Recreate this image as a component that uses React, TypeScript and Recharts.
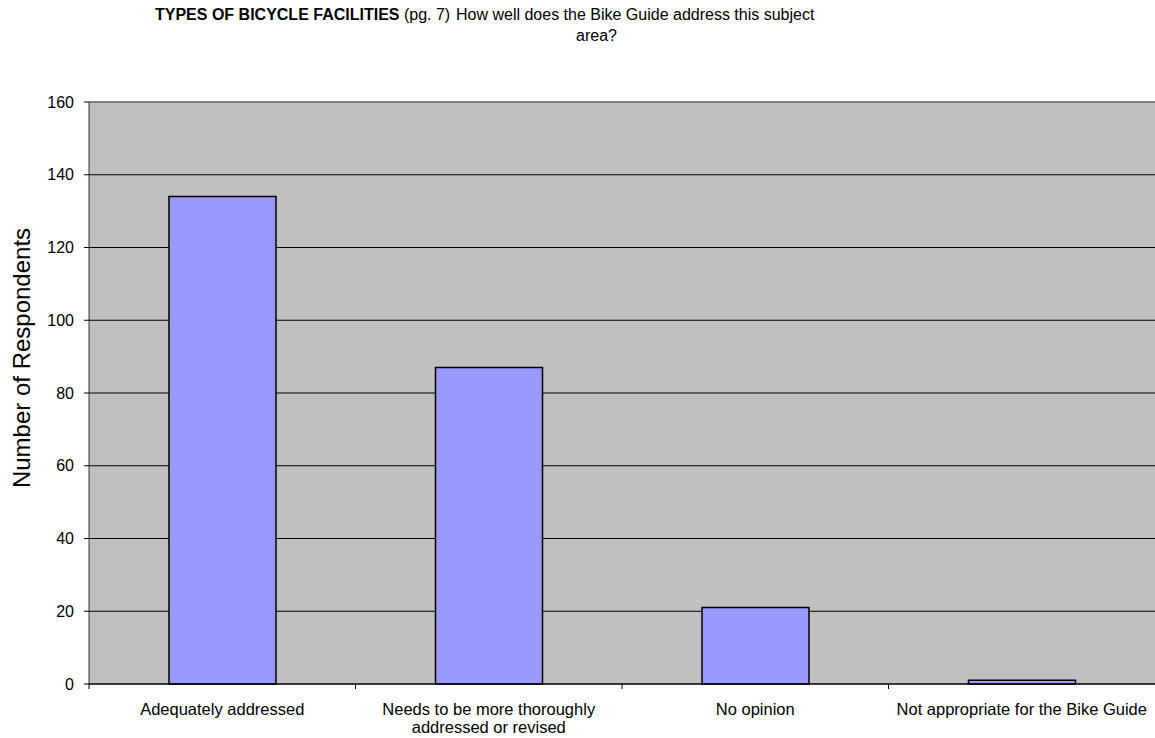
import React from 'react';
import {
  BarChart,
  Bar,
  XAxis,
  YAxis,
  CartesianGrid,
  ReferenceLine,
} from 'recharts';

const categories = [
  'Adequately addressed',
  'Needs to be more thoroughly|addressed or revised',
  'No opinion',
  'Not appropriate for the Bike Guide',
];
const respondents = [134, 87, 21, 1];
const yTicks = [0, 20, 40, 60, 80, 100, 120, 140, 160];

const data = categories.map((name, i) => ({ name, value: respondents[i] }));

const FONT = 'Liberation Sans, Arial, sans-serif';
const PLOT_WIDTH = 1066;

// category label, split on '|', plus a tick mark at the left edge of the band
const CategoryTick = (props: any) => {
  const { x, y, payload } = props;
  const half = payload.offset ?? PLOT_WIDTH / categories.length / 2;
  const lines = String(payload.value).split('|');
  return (
    <g>
      <line x1={x - half} x2={x - half} y1={y - 5} y2={y} stroke="#000" strokeWidth={1} />
      {lines.map((line, i) => (
        <text
          key={i}
          x={x}
          y={y + 26 + i * 18}
          textAnchor="middle"
          fontSize={16.5}
          fontFamily={FONT}
          fill="#000"
        >
          {line}
        </text>
      ))}
    </g>
  );
};

const AxisTitle = () => {
  const cx = 30;
  const cy = 358;
  return (
    <text
      x={cx}
      y={cy}
      transform={`rotate(-90 ${cx} ${cy})`}
      textAnchor="middle"
      fontSize={24}
      fontFamily={FONT}
      fill="#000"
    >
      Number of Respondents
    </text>
  );
};

export default function App() {
  return (
    <div
      style={{
        position: 'absolute',
        left: 0,
        top: 0,
        width: 1155,
        height: 738,
        background: '#fff',
        fontFamily: FONT,
      }}
    >
      <div style={{ position: 'absolute', left: 155, top: 6, fontSize: 16, whiteSpace: 'pre' }}>
        <b>TYPES OF BICYCLE FACILITIES</b> (pg. 7)
      </div>
      <div style={{ position: 'absolute', left: 456, top: 6, fontSize: 16, whiteSpace: 'pre' }}>
        How well does the Bike Guide address this subject
      </div>
      <div style={{ position: 'absolute', left: 576, top: 27, fontSize: 16, whiteSpace: 'pre' }}>
        area?
      </div>
      <BarChart
        width={1155}
        height={738}
        data={data}
        margin={{ top: 102, right: 0, bottom: 0, left: 0 }}
      >
        <CartesianGrid fill="#C0C0C0" fillOpacity={1} vertical={false} stroke="#000" />
        <XAxis
          dataKey="name"
          height={54}
          tickLine={false}
          tickSize={5}
          tickMargin={0}
          interval={0}
          axisLine={{ stroke: '#000' }}
          tick={<CategoryTick />}
        />
        <YAxis
          width={89}
          domain={[0, 160]}
          ticks={yTicks}
          interval={0}
          tickSize={5}
          tickMargin={10}
          axisLine={{ stroke: '#333' }}
          tickLine={{ stroke: '#000' }}
          tick={{ fill: '#000', fontSize: 16, fontFamily: FONT }}
          label={<AxisTitle />}
        />
        <ReferenceLine y={160} stroke="#808080" strokeWidth={2} />
        <Bar
          dataKey="value"
          fill="#9999FF"
          stroke="#000"
          strokeWidth={1.5}
          barSize={107}
          isAnimationActive={false}
        />
      </BarChart>
    </div>
  );
}
